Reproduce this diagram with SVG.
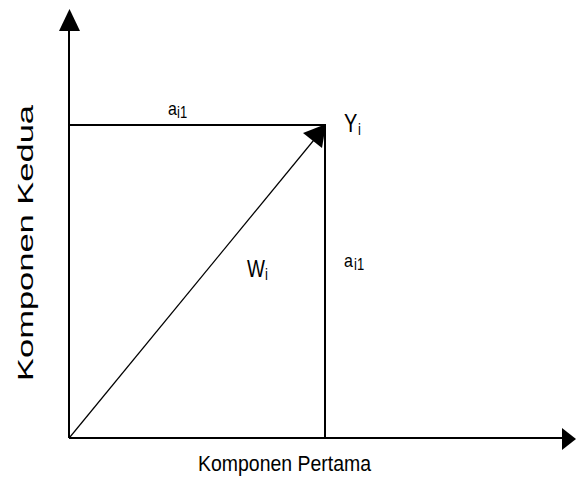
<svg xmlns="http://www.w3.org/2000/svg" width="576" height="480" viewBox="0 0 576 480">
<style>
.ln{stroke:#000;stroke-width:2;fill:none}
.t{font-family:"Liberation Sans",Arial,sans-serif;fill:#000}
</style>
<rect width="576" height="480" fill="#fff"/>
<g id="connectors">
<line class="ln" x1="69" y1="438" x2="69" y2="30"/>
<polygon points="69.5,9 59,31 80,31" fill="#000"/>
<line class="ln" x1="69" y1="438" x2="563" y2="438"/>
<polygon points="576,439 562,428 562,450" fill="#000"/>
<line class="ln" x1="69" y1="125" x2="326" y2="125"/>
<line class="ln" x1="325" y1="124" x2="325" y2="438"/>
<line x1="70" y1="437" x2="318" y2="135" stroke="#000" stroke-width="1.2"/>
<polygon points="326,124 322,148 303,133" fill="#000"/>
</g>
<g id="label-a-top">
<text class="t" transform="translate(168,115) scale(1,1.2)" font-size="16">a</text>
<text class="t" transform="translate(177,118) scale(1,1.2)" font-size="13">i1</text>
</g>
<g id="label-y">
<text class="t" transform="translate(344,132) scale(1,1.25)" font-size="20">Y</text>
<text class="t" transform="translate(358,135) scale(1,1.2)" font-size="13">i</text>
</g>
<g id="label-w">
<text class="t" transform="translate(247,277) scale(1,1.25)" font-size="19">W</text>
<text class="t" transform="translate(265,280) scale(1,1.2)" font-size="13">i</text>
</g>
<g id="label-a-right">
<text class="t" transform="translate(344,267) scale(1,1.2)" font-size="16">a</text>
<text class="t" transform="translate(354,270) scale(1,1.2)" font-size="13">i1</text>
</g>
<g id="axis-x-label">
<text class="t" transform="translate(198,471) scale(1,1.15)" font-size="19" textLength="173" lengthAdjust="spacingAndGlyphs">Komponen Pertama</text>
</g>
<g id="axis-y-label">
<text class="t" transform="translate(33,243) rotate(-90)" font-size="22" text-anchor="middle" textLength="276" lengthAdjust="spacingAndGlyphs">Komponen Kedua</text>
</g>
</svg>
